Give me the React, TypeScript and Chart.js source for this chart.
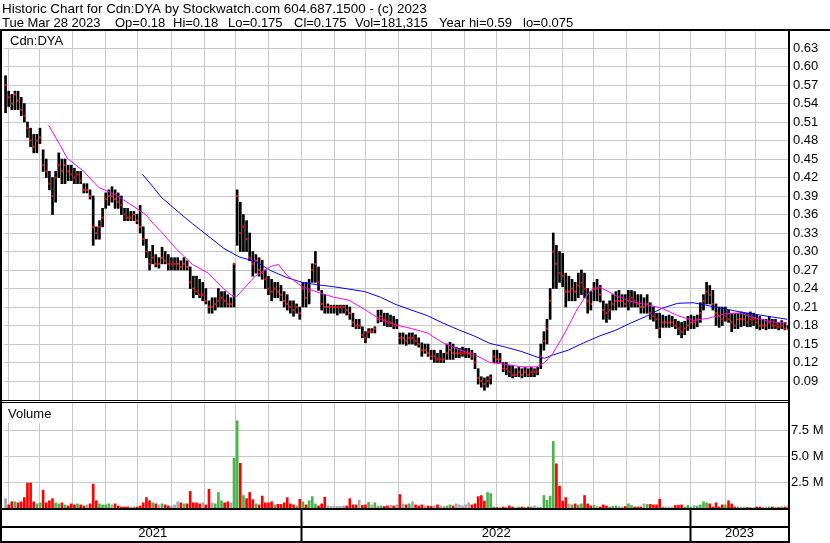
import { useEffect, useRef } from 'react';
import { Chart, registerables } from 'chart.js';

Chart.register(...registerables);

const HEADER_LINE_1 = 'Historic Chart for Cdn:DYA by Stockwatch.com 604.687.1500 - (c) 2023';
const HEADER_FIELDS = ['Tue Mar 28 2023', 'Op=0.18', 'Hi=0.18', 'Lo=0.175', 'Cl=0.175', 'Vol=181,315', 'Year hi=0.59', 'lo=0.075'];
const SYMBOL = 'Cdn:DYA';
const VOLUME_TITLE = 'Volume';

// trading sessions shown (Mar 30 2021 .. Mar 28 2023), one bar per two sessions
const TRADING_DAYS = 501;
const BAR_STEP = 2;

const HIGH = [
  0.585, 0.56, 0.555, 0.56, 0.56, 0.55, 0.54, 0.51, 0.50, 0.49,
  0.49, 0.50, 0.465, 0.45, 0.43, 0.42, 0.43, 0.46, 0.45, 0.45,
  0.44, 0.44, 0.435, 0.43, 0.43, 0.41, 0.41, 0.40, 0.39, 0.34,
  0.35, 0.37, 0.395, 0.40, 0.405, 0.40, 0.395, 0.39, 0.37, 0.37,
  0.365, 0.365, 0.36, 0.375, 0.34, 0.32, 0.30, 0.31, 0.295, 0.29,
  0.307, 0.30, 0.295, 0.29, 0.29, 0.29, 0.285, 0.29, 0.285, 0.275,
  0.26, 0.26, 0.255, 0.25, 0.24, 0.22, 0.225, 0.225, 0.24, 0.235,
  0.235, 0.23, 0.225, 0.28, 0.40, 0.38, 0.36, 0.35, 0.33, 0.30,
  0.295, 0.29, 0.286, 0.27, 0.26, 0.255, 0.25, 0.25, 0.245, 0.235,
  0.23, 0.22, 0.22, 0.215, 0.21, 0.25, 0.25, 0.255, 0.28, 0.30,
  0.275, 0.237, 0.23, 0.215, 0.213, 0.213, 0.213, 0.213, 0.213, 0.213,
  0.21, 0.20, 0.19, 0.19, 0.178, 0.17, 0.175, 0.175, 0.178, 0.205,
  0.205, 0.20, 0.20, 0.197, 0.195, 0.19, 0.168, 0.168, 0.165, 0.168,
  0.168, 0.165, 0.16, 0.152, 0.15, 0.15, 0.14, 0.14, 0.135, 0.14,
  0.135, 0.15, 0.153, 0.15, 0.145, 0.143, 0.145, 0.143, 0.143, 0.14,
  0.135, 0.11, 0.097, 0.095, 0.097, 0.10, 0.14, 0.14, 0.135, 0.12,
  0.12, 0.115, 0.115, 0.11, 0.112, 0.11, 0.112, 0.11, 0.112, 0.11,
  0.112, 0.15, 0.17, 0.19, 0.24, 0.33, 0.31, 0.30, 0.297, 0.265,
  0.26, 0.255, 0.25, 0.265, 0.27, 0.265, 0.24, 0.235, 0.25, 0.255,
  0.245, 0.22, 0.215, 0.22, 0.23, 0.235, 0.237, 0.23, 0.23, 0.237,
  0.237, 0.235, 0.23, 0.23, 0.225, 0.23, 0.217, 0.21, 0.20, 0.20,
  0.197, 0.195, 0.197, 0.195, 0.19, 0.187, 0.185, 0.187, 0.195, 0.197,
  0.195, 0.197, 0.217, 0.23, 0.25, 0.245, 0.237, 0.215, 0.21, 0.21,
  0.21, 0.205, 0.20, 0.20, 0.20, 0.202, 0.20, 0.20, 0.202, 0.20,
  0.197, 0.195, 0.19, 0.19, 0.195, 0.19, 0.19, 0.185, 0.188, 0.185,
  0.18,
];

const LOW = [
  0.525, 0.535, 0.53, 0.53, 0.53, 0.52, 0.51, 0.485, 0.47, 0.46,
  0.46, 0.475, 0.43, 0.42, 0.40, 0.36, 0.38, 0.42, 0.41, 0.41,
  0.415, 0.415, 0.41, 0.41, 0.41, 0.395, 0.395, 0.385, 0.31, 0.32,
  0.32, 0.34, 0.37, 0.375, 0.38, 0.37, 0.37, 0.36, 0.35, 0.35,
  0.35, 0.35, 0.345, 0.33, 0.31, 0.29, 0.27, 0.28, 0.275, 0.273,
  0.28, 0.28, 0.27, 0.27, 0.27, 0.27, 0.27, 0.27, 0.27, 0.24,
  0.225, 0.23, 0.225, 0.22, 0.215, 0.20, 0.20, 0.205, 0.21, 0.21,
  0.21, 0.21, 0.21, 0.21, 0.31, 0.30, 0.30, 0.30, 0.285, 0.26,
  0.265, 0.26, 0.255, 0.24, 0.23, 0.22, 0.225, 0.225, 0.22, 0.21,
  0.205, 0.20, 0.195, 0.20, 0.19, 0.21, 0.21, 0.215, 0.25, 0.25,
  0.237, 0.205, 0.20, 0.20, 0.20, 0.20, 0.197, 0.20, 0.20, 0.197,
  0.19, 0.178, 0.175, 0.175, 0.16, 0.152, 0.16, 0.168, 0.168, 0.184,
  0.186, 0.18, 0.178, 0.178, 0.175, 0.175, 0.15, 0.15, 0.148, 0.15,
  0.15, 0.148, 0.145, 0.13, 0.135, 0.13, 0.125, 0.12, 0.12, 0.12,
  0.12, 0.125, 0.125, 0.125, 0.128, 0.128, 0.13, 0.128, 0.128, 0.125,
  0.11, 0.085, 0.08, 0.075, 0.08, 0.085, 0.12, 0.12, 0.12, 0.105,
  0.10, 0.097, 0.095, 0.097, 0.097, 0.095, 0.097, 0.097, 0.097, 0.097,
  0.10, 0.11, 0.14, 0.15, 0.19, 0.24, 0.24, 0.25, 0.243, 0.21,
  0.22, 0.22, 0.22, 0.225, 0.23, 0.225, 0.20, 0.205, 0.22, 0.22,
  0.218, 0.19, 0.185, 0.19, 0.205, 0.205, 0.21, 0.21, 0.21, 0.205,
  0.21, 0.21, 0.21, 0.20, 0.20, 0.20, 0.19, 0.187, 0.175, 0.16,
  0.177, 0.177, 0.177, 0.178, 0.175, 0.165, 0.16, 0.165, 0.172, 0.175,
  0.175, 0.178, 0.185, 0.205, 0.215, 0.215, 0.205, 0.18, 0.177, 0.18,
  0.187, 0.185, 0.17, 0.175, 0.175, 0.178, 0.18, 0.178, 0.178, 0.18,
  0.175, 0.173, 0.175, 0.173, 0.175, 0.175, 0.175, 0.173, 0.175, 0.173,
  0.175,
];

const CLOSE = [
  0.57, 0.55, 0.54, 0.555, 0.545, 0.53, 0.52, 0.50, 0.48, 0.47,
  0.48, 0.485, 0.44, 0.43, 0.41, 0.39, 0.42, 0.44, 0.43, 0.44,
  0.43, 0.425, 0.42, 0.425, 0.415, 0.40, 0.40, 0.39, 0.34, 0.33,
  0.34, 0.355, 0.385, 0.39, 0.39, 0.385, 0.38, 0.375, 0.36, 0.355,
  0.355, 0.36, 0.35, 0.34, 0.32, 0.30, 0.28, 0.29, 0.28, 0.28,
  0.29, 0.285, 0.28, 0.28, 0.28, 0.28, 0.275, 0.28, 0.275, 0.25,
  0.24, 0.235, 0.23, 0.23, 0.22, 0.21, 0.21, 0.215, 0.22, 0.225,
  0.22, 0.215, 0.215, 0.28, 0.39, 0.33, 0.34, 0.32, 0.29, 0.28,
  0.285, 0.27, 0.265, 0.255, 0.24, 0.235, 0.24, 0.235, 0.23, 0.22,
  0.215, 0.21, 0.205, 0.21, 0.20, 0.24, 0.225, 0.235, 0.27, 0.28,
  0.25, 0.215, 0.21, 0.21, 0.21, 0.21, 0.21, 0.21, 0.21, 0.205,
  0.20, 0.185, 0.18, 0.18, 0.165, 0.16, 0.17, 0.17, 0.175, 0.19,
  0.195, 0.19, 0.185, 0.185, 0.18, 0.18, 0.16, 0.16, 0.155, 0.16,
  0.16, 0.155, 0.15, 0.14, 0.14, 0.135, 0.13, 0.13, 0.125, 0.125,
  0.125, 0.135, 0.14, 0.135, 0.135, 0.135, 0.135, 0.135, 0.135, 0.13,
  0.12, 0.095, 0.09, 0.085, 0.09, 0.095, 0.13, 0.125, 0.125, 0.11,
  0.11, 0.105, 0.10, 0.10, 0.105, 0.10, 0.105, 0.10, 0.105, 0.105,
  0.105, 0.13, 0.155, 0.175, 0.22, 0.30, 0.28, 0.265, 0.26, 0.235,
  0.235, 0.24, 0.235, 0.245, 0.25, 0.24, 0.22, 0.215, 0.24, 0.24,
  0.23, 0.205, 0.20, 0.205, 0.215, 0.22, 0.22, 0.22, 0.215, 0.22,
  0.225, 0.22, 0.215, 0.21, 0.21, 0.215, 0.20, 0.195, 0.19, 0.175,
  0.185, 0.185, 0.185, 0.185, 0.18, 0.175, 0.17, 0.175, 0.18, 0.185,
  0.185, 0.19, 0.20, 0.22, 0.235, 0.23, 0.215, 0.20, 0.195, 0.19,
  0.195, 0.19, 0.185, 0.18, 0.19, 0.19, 0.19, 0.185, 0.19, 0.19,
  0.185, 0.18, 0.18, 0.18, 0.185, 0.18, 0.18, 0.178, 0.18, 0.175,
  0.175,
];

// volume in millions of shares
const VOLUME_M = [
  0.9, 0.3, 0.6, 0.6, 0.5, 0.6, 1.0, 2.4, 2.4, 0.6,
  0.4, 0.5, 1.7, 0.5, 0.7, 0.9, 0.5, 0.4, 0.5, 0.3,
  0.2, 0.4, 0.3, 0.4, 0.3, 0.2, 0.3, 0.4, 2.3, 0.7,
  0.4, 0.3, 0.3, 0.4, 0.3, 0.4, 0.2, 0.1, 0.1, 0.1,
  0.1, 0.1, 0.1, 0.2, 0.5, 1.0, 0.7, 0.5, 0.4, 0.3,
  0.4, 0.3, 0.2, 0.2, 0.3, 0.6, 0.5, 0.4, 0.4, 1.6,
  0.5, 0.5, 0.4, 0.5, 0.3, 1.8, 0.5, 0.4, 1.5, 0.7,
  0.5, 0.6, 0.5, 4.8, 8.4, 4.3, 1.2, 0.9, 1.5, 0.8,
  0.4, 0.3, 1.15, 0.5, 0.5, 0.6, 0.3, 0.35, 0.35, 0.5,
  1.0, 0.4, 0.3, 0.2, 0.85, 0.6, 0.3, 0.7, 1.1, 0.4,
  0.2, 0.4, 1.05, 0.2, 0.15, 0.15, 0.15, 0.15, 0.2, 0.2,
  0.9, 0.3, 0.3, 0.75, 0.25, 0.3, 0.55, 0.3, 0.5, 0.15,
  0.2, 0.15, 0.2, 0.25, 0.2, 0.3, 1.3, 0.4, 0.3, 0.4,
  0.6, 0.3, 0.2, 0.3, 0.2, 0.2, 0.15, 0.2, 0.3, 0.2,
  0.15, 0.2, 0.3, 0.2, 0.4, 0.3, 0.2, 0.3, 0.5, 0.3,
  0.4, 1.1, 1.2, 0.65, 1.5, 1.4, 0.1, 0.05, 0.05, 0.1,
  0.1, 0.2, 0.1, 0.05, 0.1, 0.1, 0.05, 0.1, 0.1, 0.2,
  0.1, 0.05, 1.2, 0.75, 1.15, 6.4, 4.25, 2.1, 0.65, 1.0,
  0.4, 0.3, 0.4, 0.3, 0.4, 1.2, 0.4, 0.2, 0.25, 0.15,
  0.1, 0.3, 0.2, 0.1, 0.15, 0.2, 0.15, 0.1, 0.15, 0.4,
  0.25, 0.1, 0.1, 0.1, 0.4, 0.35, 0.35, 0.3, 0.3, 0.85,
  0.1, 0.1, 0.1, 0.1, 0.25, 0.25, 0.3, 0.1, 0.25, 0.1,
  0.25, 0.2, 0.3, 0.6, 0.5, 0.4, 0.1, 0.5, 0.1, 0.3,
  0.3, 0.7, 0.4, 0.1, 0.1, 0.1, 0.1, 0.05, 0.05, 0.05,
  0.1, 0.1, 0.1, 0.1, 0.1, 0.1, 0.1, 0.05, 0.1, 0.1,
  0.18,
];

// moving averages (session index, value)
const MA_SHORT_DAY = [
  28, 35, 40, 50, 60, 70, 80, 90, 95, 100, 110, 120, 130, 140, 145, 148, 150, 160, 170, 175,
  180, 190, 200, 210, 220, 230, 240, 250, 260, 270, 280, 290, 300, 310, 320, 330, 340, 345, 350, 355,
  360, 365, 370, 375, 380, 385, 390, 400, 410, 420, 430, 440, 450, 460, 470, 480, 490, 500,
];
const MA_SHORT = [
  0.505, 0.474, 0.451, 0.431, 0.404, 0.393, 0.377, 0.36, 0.345, 0.332, 0.303, 0.279, 0.265, 0.239, 0.229, 0.227, 0.232, 0.26, 0.276, 0.279,
  0.262, 0.243, 0.234, 0.226, 0.221, 0.206, 0.19, 0.181, 0.175, 0.168, 0.152, 0.141, 0.133, 0.12, 0.117, 0.113, 0.113, 0.12, 0.134, 0.155,
  0.178, 0.203, 0.223, 0.238, 0.242, 0.236, 0.229, 0.219, 0.214, 0.208, 0.196, 0.188, 0.192, 0.199, 0.20, 0.192, 0.186, 0.184,
];
const MA_LONG_DAY = [
  88, 95, 100, 110, 120, 130, 140, 150, 160, 170, 180, 190, 200, 210, 220, 230, 240, 250, 260, 270,
  280, 290, 300, 310, 320, 330, 340, 345, 350, 360, 370, 380, 390, 400, 410, 420, 430, 440, 450, 460,
  470, 480, 490, 500,
];
const MA_LONG = [
  0.425, 0.404, 0.388, 0.366, 0.345, 0.325, 0.305, 0.291, 0.284, 0.269, 0.258, 0.25, 0.246, 0.243, 0.239, 0.235, 0.226, 0.214, 0.205, 0.196,
  0.184, 0.173, 0.163, 0.151, 0.145, 0.138, 0.129, 0.127, 0.132, 0.14, 0.152, 0.163, 0.172, 0.184, 0.195, 0.208, 0.216, 0.217, 0.212, 0.207,
  0.202, 0.198, 0.194, 0.19,
];

// first session index of each month (Apr 2021 .. Mar 2023)
const MONTH_START_DAY = [3, 23, 44, 65, 85, 107, 128, 148, 169, 190, 211, 231, 252, 273, 294, 315, 336, 357, 377, 398, 419, 439, 461, 480];
const YEAR_START_DAY = [190, 439];
const YEARS = ['2021', '2022', '2023'];

const PRICE_TICKS = [0.09, 0.12, 0.15, 0.18, 0.21, 0.24, 0.27, 0.30, 0.33, 0.36, 0.39, 0.42, 0.45, 0.48, 0.51, 0.54, 0.57, 0.60, 0.63];
const PRICE_MIN = 0.0576;
const PRICE_MAX = 0.6576;
const VOLUME_TICKS = [2.5, 5, 7.5];
const VOLUME_MAX = 10.3;

// layout of the header's second line (x of each field)
const HEADER_FIELD_X = [2, 115, 173, 228, 294, 355, 439, 523];

const FONT = "'Liberation Sans', Arial, Helvetica, sans-serif";
const GRID = '#c8c8c8';
const RED = '#ff0000';
const GREEN = '#4cb34c';
const GREY = '#a6a6a6';

export default function App() {
  const ref = useRef<HTMLCanvasElement>(null);

  useEffect(() => {
    document.body.style.margin = '0';
    const canvas = ref.current;
    if (!canvas) return;

    const xs = HIGH.map((_, k) => k * BAR_STEP + 0.5);
    const priceBars = xs.map((x, k) => ({ x, y: [LOW[k], HIGH[k]] }));
    const closes = xs.map((x, k) => ({ x, y: CLOSE[k] }));
    const vols = xs.map((x, k) => ({ x, y: VOLUME_M[k] }));
    const volColors = CLOSE.map((c, k) =>
      k === 0 || c === CLOSE[k - 1] ? GREY : c > CLOSE[k - 1] ? GREEN : RED
    );
    const maShort = MA_SHORT_DAY.map((d, i) => ({ x: d, y: MA_SHORT[i] }));
    const maLong = MA_LONG_DAY.map((d, i) => ({ x: d, y: MA_LONG[i] }));

    const boundaries = YEAR_START_DAY.map((d) => d - 0.5);
    const edges = [-0.5, ...boundaries, TRADING_DAYS - 0.5];
    const yearCenters = YEARS.map((_, i) => (edges[i] + edges[i + 1]) / 2);
    const monthLines = MONTH_START_DAY.map((d) => d - 0.5);
    const xTickValues = [...monthLines, ...yearCenters].sort((a, b) => a - b);
    const near = (a: number, b: number) => Math.abs(a - b) < 1e-6;
    const isBoundary = (v: number) => boundaries.some((b) => near(b, v));
    const yearIndex = (v: number) => yearCenters.findIndex((c) => near(c, v));

    const framePlugin = {
      id: 'frame',
      beforeDatasetsDraw(chart: any) {
        const ctx = chart.ctx;
        ctx.save();
        ctx.fillStyle = '#ffffff';
        ctx.fillRect(2, 31, 66, 17);
        ctx.fillRect(2, 403, 56, 20);
        ctx.fillStyle = '#000000';
        ctx.font = `13px ${FONT}`;
        ctx.textBaseline = 'alphabetic';
        ctx.textAlign = 'left';
        ctx.fillText(SYMBOL, 10, 45);
        ctx.fillText(VOLUME_TITLE, 8, 418);
        ctx.restore();
      },
      afterDraw(chart: any) {
        const ctx = chart.ctx;
        ctx.save();
        ctx.fillStyle = '#000000';
        ctx.textBaseline = 'alphabetic';
        ctx.textAlign = 'left';
        ctx.font = `13.4px ${FONT}`;
        ctx.fillText(HEADER_LINE_1, 2, 13);
        ctx.font = `13px ${FONT}`;
        HEADER_FIELDS.forEach((t, i) => ctx.fillText(t, HEADER_FIELD_X[i], 26.7));
        // frame
        ctx.fillRect(0, 29, 830, 2);
        ctx.fillRect(0, 29, 2, 514);
        ctx.fillRect(788, 29, 2, 514);
        ctx.fillStyle = '#ffffff';
        ctx.fillRect(2, 400, 786, 3);
        ctx.fillStyle = '#000000';
        ctx.fillRect(2, 400, 786, 1);
        ctx.fillRect(2, 402, 786, 1);
        ctx.fillRect(0, 508, 790, 2);
        ctx.fillRect(0, 526, 790, 2);
        ctx.fillRect(0, 541, 790, 2);
        ctx.restore();
      },
    };

    const chart = new Chart(canvas, {
      data: {
        datasets: [
          {
            type: 'bar',
            data: priceBars as any,
            yAxisID: 'y',
            xAxisID: 'x',
            backgroundColor: '#000000',
            borderWidth: 0,
            barThickness: 2,
            grouped: false,
            order: 4,
          },
          {
            type: 'line',
            data: maLong,
            yAxisID: 'y',
            xAxisID: 'x',
            borderColor: '#0000ff',
            borderWidth: 1,
            pointRadius: 0,
            tension: 0,
            order: 3,
          },
          {
            type: 'line',
            data: maShort,
            yAxisID: 'y',
            xAxisID: 'x',
            borderColor: '#ff00ff',
            borderWidth: 1,
            pointRadius: 0,
            tension: 0,
            order: 2,
          },
          {
            type: 'line',
            data: closes,
            yAxisID: 'y',
            xAxisID: 'x',
            showLine: false,
            pointStyle: 'rect',
            pointRadius: 1.45,
            pointBorderWidth: 0,
            pointBackgroundColor: RED,
            borderColor: RED,
            order: 1,
          },
          {
            type: 'bar',
            data: vols,
            yAxisID: 'yVol',
            xAxisID: 'x',
            backgroundColor: volColors,
            borderWidth: 0,
            barThickness: 2,
            grouped: false,
            order: 5,
          },
        ],
      },
      options: {
        responsive: false,
        animation: false,
        devicePixelRatio: 1,
        events: [],
        layout: { padding: { top: 31, left: 2, right: 0, bottom: 0 } },
        plugins: { legend: { display: false }, tooltip: { enabled: false }, title: { display: false } },
        scales: {
          x: {
            type: 'linear',
            position: 'bottom',
            offset: false,
            min: -0.5,
            max: TRADING_DAYS - 0.5,
            afterBuildTicks: (s: any) => {
              s.ticks = xTickValues.map((v) => ({ value: v }));
            },
            afterFit: (s: any) => {
              s.height = 35;
            },
            grid: {
              offset: false,
              color: (c: any) => (c.tick && yearIndex(c.tick.value) >= 0 ? 'rgba(0,0,0,0)' : GRID),
              lineWidth: 1,
              drawTicks: true,
              tickLength: 35,
              tickWidth: 2,
              tickColor: (c: any) => (c.tick && isBoundary(c.tick.value) ? '#000000' : 'rgba(0,0,0,0)'),
            },
            border: { display: false },
            ticks: {
              autoSkip: false,
              maxRotation: 0,
              minRotation: 0,
              padding: -17,
              color: '#000000',
              font: { size: 13, family: FONT },
              callback: (v: any) => {
                const i = yearIndex(Number(v));
                return i >= 0 ? YEARS[i] : '';
              },
            },
          },
          y: {
            type: 'linear',
            position: 'right',
            stack: 'panels',
            stackWeight: 370,
            min: PRICE_MIN,
            max: PRICE_MAX,
            afterBuildTicks: (s: any) => {
              s.ticks = PRICE_TICKS.map((v) => ({ value: v }));
            },
            afterFit: (s: any) => {
              s.width = 42;
            },
            grid: { color: GRID, lineWidth: 1, drawTicks: false },
            border: { display: false },
            ticks: {
              autoSkip: false,
              padding: 5,
              color: '#000000',
              font: { size: 13, family: FONT },
              callback: (v: any) => Number(v).toFixed(2),
            },
          },
          yVol: {
            type: 'linear',
            position: 'right',
            stack: 'panels',
            stackWeight: 107,
            min: 0,
            max: VOLUME_MAX,
            afterBuildTicks: (s: any) => {
              s.ticks = VOLUME_TICKS.map((v) => ({ value: v }));
            },
            afterFit: (s: any) => {
              s.width = 42;
            },
            grid: { color: GRID, lineWidth: 1, drawTicks: false },
            border: { display: false },
            ticks: {
              autoSkip: false,
              padding: 3,
              color: '#000000',
              font: { size: 13, family: FONT },
              callback: (v: any) => Number(v).toFixed(1) + ' M',
            },
          },
        },
      } as any,
      plugins: [framePlugin],
    });

    return () => chart.destroy();
  }, []);

  return (
    <div style={{ width: 830, height: 543, position: 'relative', background: '#fff' }}>
      <canvas ref={ref} width={830} height={543} style={{ display: 'block' }} />
    </div>
  );
}
